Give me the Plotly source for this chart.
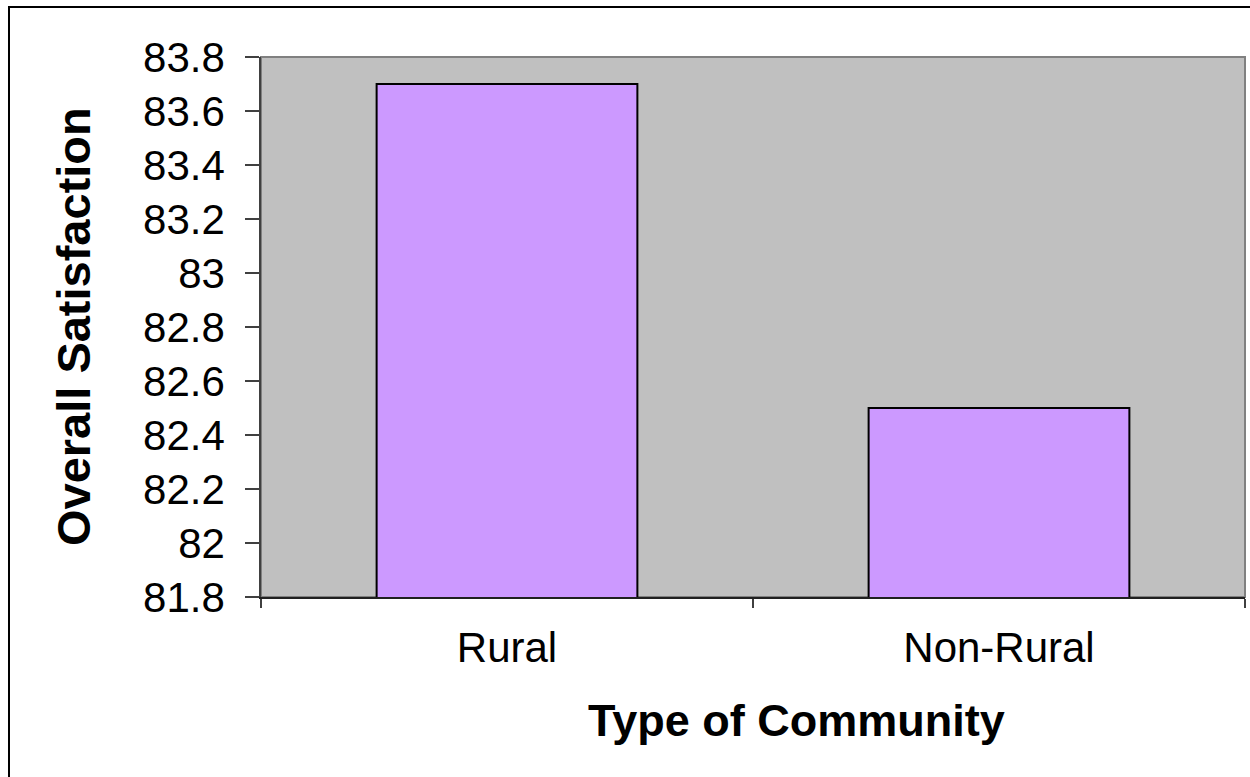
import plotly.graph_objects as go

categories = ["Rural", "Non-Rural"]
values = [83.7, 82.5]
y_ticks = [81.8, 82.0, 82.2, 82.4, 82.6, 82.8, 83.0, 83.2, 83.4, 83.6, 83.8]
y_tick_labels = ["81.8", "82", "82.2", "82.4", "82.6", "82.8", "83", "83.2", "83.4", "83.6", "83.8"]

FONT = "Liberation Sans, Arial, sans-serif"

fig = go.Figure(
    go.Bar(
        x=categories,
        y=values,
        marker=dict(color="#CC99FF", line=dict(color="black", width=2)),
        hoverinfo="x+y",
    )
)

fig.update_layout(
    width=1250,
    height=777,
    margin=dict(l=261, r=5, t=57, b=180),
    paper_bgcolor="white",
    plot_bgcolor="#C0C0C0",
    bargap=0.47,
    showlegend=False,
    font=dict(family=FONT, color="black"),
    xaxis=dict(
        type="category",
        tickson="boundaries",
        ticks="outside",
        ticklen=9,
        tickcolor="#404040",
        tickwidth=1.5,
        showline=True,
        linecolor="#202020",
        linewidth=1.5,
        showgrid=False,
        tickfont=dict(size=42, family=FONT, color="black"),
        ticklabelstandoff=13,
    ),
    yaxis=dict(
        range=[81.8, 83.8],
        tickmode="array",
        tickvals=y_ticks,
        ticktext=y_tick_labels,
        ticks="outside",
        ticklen=14,
        tickcolor="#404040",
        tickwidth=1.5,
        showline=True,
        linecolor="#404040",
        linewidth=1.5,
        showgrid=False,
        zeroline=False,
        tickfont=dict(size=42, family=FONT, color="black"),
        ticklabelstandoff=12,
    ),
    shapes=[
        dict(type="rect", xref="paper", yref="paper", x0=0, x1=1, y0=0, y1=1,
             line=dict(color="#808080", width=2), layer="below"),
        dict(type="rect", xref="paper", yref="paper", x0=-0.2561, x1=1.02, y0=-0.36, y1=1.0926,
             line=dict(color="black", width=2), layer="above"),
    ],
    annotations=[
        dict(text="<b>Type of Community</b>", xref="paper", yref="paper",
             x=0.5437, y=-0.228, xanchor="center", yanchor="middle", showarrow=False,
             font=dict(size=45, family=FONT, color="black")),
        dict(text="<b>Overall Satisfaction</b>", xref="paper", yref="paper",
             x=-0.191, y=0.5, xanchor="center", yanchor="middle", textangle=-90, showarrow=False,
             font=dict(size=47, family=FONT, color="black")),
    ],
)

fig.write_html("out.html", config={"displayModeBar": False},
               post_script="document.body.style.margin='0px';")
